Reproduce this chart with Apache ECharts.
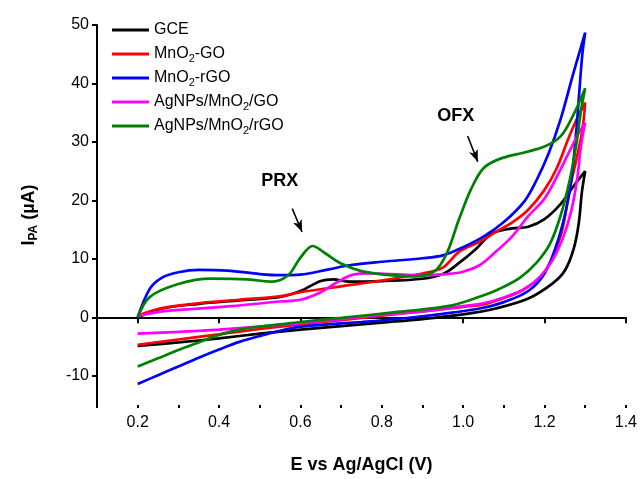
<!DOCTYPE html>
<html>
<head>
<meta charset="utf-8">
<script src="https://cdn.jsdelivr.net/npm/echarts@6/dist/echarts.min.js"></script>
<style>
  html, body { margin: 0; padding: 0; background: #fff; }
  #cv-chart { width: 640px; height: 479px; }
</style>
</head>
<body>
<div id="cv-chart"></div>
<script>
var myChart = echarts.init(document.getElementById('cv-chart'));
var fontFamily = '"Liberation Sans", Arial, sans-serif';

// series names and colours (legend order)
var names = ['GCE', 'MnO2-GO', 'MnO2-rGO', 'AgNPs/MnO2/GO', 'AgNPs/MnO2/rGO'];
var colors = ['#000000', '#ff0000', '#0000ff', '#ff00ff', '#008000'];

// [E (V), I (uA)]: forward scan then reverse scan
var gce = [
    [0.2, 0], [0.26, 1.5], [0.35, 2.3], [0.45, 2.9], [0.55, 3.5], [0.6, 4.5], [0.65, 6.2],
    [0.68, 6.5], [0.72, 6.1], [0.8, 6.2], [0.9, 6.6], [0.95, 7.4], [0.99, 9.3], [1.03, 11.6],
    [1.07, 14.3], [1.12, 15.2], [1.16, 15.5], [1.2, 16.8], [1.24, 19.4], [1.27, 22.3], [1.3, 25.0],
    [1.292, 21.5], [1.284, 16], [1.272, 11.8], [1.25, 8], [1.22, 5.8], [1.16, 3.2], [1.08, 1.5],
    [1.0, 0.5], [0.9, -0.3], [0.8, -0.9], [0.7, -1.5], [0.6, -2.1], [0.5, -2.8], [0.4, -3.6],
    [0.3, -4.3], [0.2, -4.9]
];
var mnGo = [
    [0.2, 0.3], [0.26, 1.6], [0.35, 2.4], [0.45, 3.0], [0.55, 3.6], [0.6, 4.3], [0.7, 5.3],
    [0.8, 6.3], [0.9, 7.5], [0.95, 8.5], [0.99, 11.2], [1.04, 12.9], [1.08, 14.6], [1.12, 16.2],
    [1.16, 18.4], [1.2, 21.8], [1.23, 25.5], [1.26, 30.8], [1.28, 34], [1.3, 36.7],
    [1.293, 32], [1.28, 27.5], [1.262, 22], [1.24, 14], [1.2, 7.7], [1.15, 4.8], [1.1, 3.3],
    [1.05, 2.2], [1.0, 1.8], [0.9, 1.0], [0.8, 0.3], [0.7, -0.5], [0.6, -1.2], [0.5, -2.0],
    [0.4, -2.9], [0.3, -3.8], [0.2, -4.7]
];
var mnRgo = [
    [0.2, 0], [0.23, 4.9], [0.26, 6.8], [0.3, 7.7], [0.35, 8.1], [0.42, 8.0], [0.5, 7.4],
    [0.55, 7.2], [0.6, 7.3], [0.67, 8.2], [0.72, 8.9], [0.8, 9.5], [0.9, 10.1], [0.95, 10.6],
    [1.0, 12.0], [1.05, 13.8], [1.1, 16.3], [1.15, 19.8], [1.18, 23.4], [1.21, 28],
    [1.24, 34], [1.27, 41.5], [1.3, 48.7],
    [1.293, 45], [1.286, 39], [1.277, 31], [1.265, 23], [1.25, 17.5], [1.23, 12.5], [1.2, 7.5],
    [1.16, 4.5], [1.1, 2.6], [1.04, 1.5], [0.95, 0.6], [0.85, -0.2], [0.75, -0.8], [0.65, -1.3],
    [0.6, -1.6], [0.55, -2.3], [0.5, -3.2], [0.45, -4.2], [0.4, -5.5], [0.35, -6.9],
    [0.3, -8.4], [0.25, -9.9], [0.2, -11.4]
];
var agGo = [
    [0.2, 0.2], [0.26, 1.0], [0.35, 1.5], [0.43, 1.9], [0.55, 2.7], [0.6, 3.0], [0.65, 4.3],
    [0.69, 6.0], [0.73, 7.3], [0.77, 7.5], [0.85, 7.3], [0.9, 7.2], [0.96, 7.4], [1.0, 7.8],
    [1.04, 8.9], [1.08, 11.2], [1.12, 13.8], [1.16, 17.3], [1.2, 20.3], [1.23, 24], [1.26, 28.2],
    [1.28, 31], [1.3, 33.3],
    [1.29, 29.5], [1.28, 23.5], [1.265, 18], [1.245, 13.5], [1.22, 9.8], [1.19, 7.0], [1.15, 4.8],
    [1.1, 3.4], [1.05, 2.4], [1.0, 1.9], [0.9, 1.0], [0.8, 0.4], [0.7, -0.3], [0.6, -1.0],
    [0.5, -1.6], [0.4, -2.1], [0.3, -2.5], [0.2, -2.8]
];
var agRgo = [
    [0.2, 0], [0.23, 3.5], [0.3, 5.7], [0.38, 6.6], [0.47, 6.5], [0.53, 6.1], [0.57, 7.2],
    [0.6, 10.2], [0.63, 12.2], [0.66, 11], [0.7, 9.2], [0.75, 7.9], [0.82, 7.2], [0.88, 7.0],
    [0.93, 7.9], [0.96, 11], [0.99, 16.8], [1.02, 22], [1.05, 25.5], [1.09, 27.1], [1.15, 28.2],
    [1.2, 29.2], [1.24, 31], [1.27, 34.5], [1.3, 39.2],
    [1.29, 35.5], [1.278, 29.5], [1.262, 23.5], [1.24, 17.5], [1.213, 12.5], [1.18, 9.3],
    [1.14, 6.8], [1.09, 4.9], [1.04, 3.5], [0.97, 2.0], [0.85, 1.0], [0.7, -0.1], [0.6, -0.8],
    [0.55, -1.2], [0.5, -1.6], [0.45, -2.1], [0.4, -3.0], [0.35, -4.3], [0.3, -5.6],
    [0.25, -7.0], [0.2, -8.4]
];
var curves = [gce, mnGo, mnRgo, agGo, agRgo];

// axis ticks
var xLabels = [0.2, 0.4, 0.6, 0.8, 1.0, 1.2, 1.4];
var yLabels = [-10, 0, 10, 20, 30, 40, 50];

// peak annotations: label position and arrow (start -> end), in data units
var notes = [
    { text: 'PRX', at: [0.549, 23.3], from: [0.58, 18.6], to: [0.604, 14.6] },
    { text: 'OFX', at: [0.982, 34.5], from: [1.011, 31.0], to: [1.036, 26.6] }
];

var legendText = {
    'GCE': 'GCE',
    'MnO2-GO': 'MnO{s|2}-GO',
    'MnO2-rGO': 'MnO{s|2}-rGO',
    'AgNPs/MnO2/GO': 'AgNPs/MnO{s|2}/GO',
    'AgNPs/MnO2/rGO': 'AgNPs/MnO{s|2}/rGO'
};

var series = curves.map(function (d, i) {
    return {
        name: names[i],
        type: 'line',
        data: d,
        smooth: 0.35,
        symbol: 'none',
        lineStyle: { color: colors[i], width: 2.7 },
        itemStyle: { color: colors[i] },
        z: 2 + i
    };
});

series.push({
    type: 'line',
    data: [],
    silent: true,
    markLine: {
        silent: true,
        symbol: ['none', 'arrow'],
        symbolSize: [7, 12],
        lineStyle: { color: '#000', width: 1.6, type: 'solid' },
        label: { show: false },
        data: notes.map(function (n) {
            return [{ coord: n.from }, { coord: n.to }];
        })
    },
    markPoint: {
        silent: true,
        symbol: 'circle',
        symbolSize: 1,
        itemStyle: { color: 'rgba(0,0,0,0)' },
        label: {
            show: true,
            position: 'inside',
            color: '#000',
            fontSize: 18,
            fontWeight: 'bold',
            fontFamily: fontFamily,
            formatter: function (p) { return p.name; }
        },
        data: notes.map(function (n) {
            return { name: n.text, coord: n.at };
        })
    }
});

option = {
    backgroundColor: '#fff',
    animation: false,
    grid: { left: 97, right: 14, top: 25, bottom: 70 },
    legend: {
        data: names,
        orient: 'vertical',
        left: 107,
        top: 15,
        icon: 'rect',
        itemWidth: 37,
        itemHeight: 3,
        itemGap: 4,
        formatter: function (name) { return legendText[name]; },
        textStyle: {
            color: '#000',
            fontSize: 16,
            lineHeight: 20,
            fontFamily: fontFamily,
            rich: {
                s: { fontSize: 11, lineHeight: 20, fontFamily: fontFamily, color: '#000', padding: [9, 0, 0, 0] }
            }
        }
    },
    xAxis: [{
        type: 'value',
        min: 0.1,
        max: 1.4,
        name: 'E vs Ag/AgCl (V)',
        nameLocation: 'middle',
        nameGap: 51,
        nameTextStyle: { color: '#000', fontSize: 18, fontWeight: 'bold', fontFamily: fontFamily },
        axisLine: { lineStyle: { color: '#000', width: 2 } },
        axisTick: { customValues: xLabels, length: 6, lineStyle: { color: '#000', width: 2 } },
        axisLabel: {
            customValues: xLabels,
            formatter: function (v) { return v.toFixed(1); },
            color: '#000', fontSize: 16, fontFamily: fontFamily, margin: 10
        },
        splitLine: { show: false }
    }, {
        type: 'value',
        position: 'bottom',
        min: 0.1,
        max: 1.4,
        interval: 0.1,
        axisLine: { show: false },
        axisTick: { length: 3, lineStyle: { color: '#000', width: 2 } },
        axisLabel: { show: false },
        splitLine: { show: false }
    }],
    yAxis: {
        type: 'value',
        min: -15,
        max: 50,
        name: '{b|I}{s|PA}{b| (µA)}',
        nameLocation: 'middle',
        nameRotate: 90,
        nameGap: 57,
        nameTextStyle: {
            rich: {
                b: { color: '#000', fontSize: 18, fontWeight: 'bold', fontFamily: fontFamily },
                s: { color: '#000', fontSize: 12, fontWeight: 'bold', fontFamily: fontFamily, padding: [9, 0, 0, 0] }
            }
        },
        axisLine: { show: true, lineStyle: { color: '#000', width: 2 } },
        axisTick: { show: true, customValues: yLabels, length: 5, lineStyle: { color: '#000', width: 2 } },
        axisLabel: { customValues: yLabels, color: '#000', fontSize: 16, fontFamily: fontFamily, margin: 8 },
        splitLine: { show: false }
    },
    series: series
};
myChart.setOption(option);
</script>
</body>
</html>
